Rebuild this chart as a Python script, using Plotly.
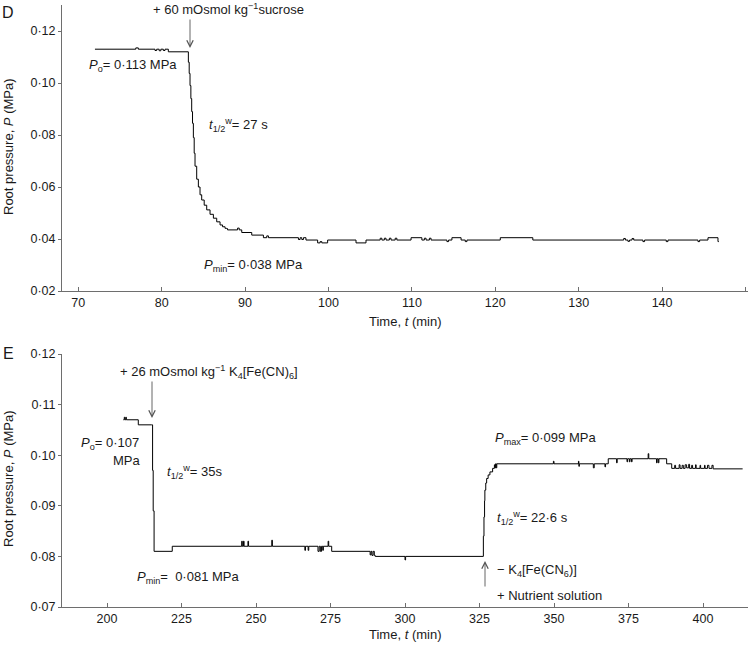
import plotly.graph_objects as go

# ---------------- data ----------------
# Panel D: root pressure response to 60 mOsmol/kg sucrose
D_time = [72.0, 76.9, 77.2, 79.2, 79.4, 79.7, 79.9, 80.2, 80.4, 80.8,
          83.2, 83.3, 83.4, 83.5, 83.6, 83.7, 83.8, 83.9, 84.0, 84.2,
          84.4, 84.6, 84.8, 85.1, 85.4, 85.8, 86.2, 86.6, 87.0, 87.3,
          87.6, 87.8, 87.9, 89.1, 89.3, 89.6, 90.8, 92.2, 92.6, 92.8,
          96.4, 96.6, 96.8, 97.0, 97.3, 98.7, 99.0, 99.2, 99.9, 103.3,
          104.5, 106.2, 106.4, 106.7, 106.9, 107.3, 107.5, 108.0, 108.2, 109.9,
          111.2, 111.5, 111.7, 112.1, 112.3, 114.2, 114.4, 114.8, 115.9, 116.4,
          116.6, 120.6, 124.5, 135.4, 135.6, 135.9, 136.1, 136.4, 136.6, 137.7,
          137.9, 140.5, 140.7, 144.3, 144.5, 145.5, 146.7, 146.8]
D_pressure = [0.113, 0.1135, 0.113, 0.1125, 0.113, 0.1124, 0.113, 0.1125, 0.113, 0.112,
              0.108, 0.1037, 0.099, 0.094, 0.089, 0.0845, 0.079, 0.073, 0.068, 0.063,
              0.060, 0.057, 0.055, 0.053, 0.0512, 0.0495, 0.048, 0.0466, 0.0454, 0.0447,
              0.0441, 0.0440, 0.0435, 0.0442, 0.0435, 0.0425, 0.0415, 0.0405, 0.0412, 0.0405,
              0.0398, 0.0405, 0.0398, 0.0405, 0.0396, 0.0385, 0.0390, 0.0385, 0.0396, 0.0385,
              0.0396, 0.0403, 0.0396, 0.0403, 0.0396, 0.0403, 0.0396, 0.0403, 0.0396, 0.0405,
              0.0396, 0.0403, 0.0396, 0.0403, 0.0396, 0.0390, 0.0396, 0.0405, 0.0396, 0.0390,
              0.0396, 0.0405, 0.0396, 0.0402, 0.0396, 0.0391, 0.0396, 0.0402, 0.0396, 0.0390,
              0.0396, 0.0390, 0.0396, 0.0390, 0.0396, 0.0405, 0.0390, 0.0390]

# Panel E: response to 26 mOsmol/kg K4[Fe(CN)6] and its removal
E_time = [205.5, 205.8, 206.0, 206.3, 206.5, 210.5, 215.0, 215.3, 215.5, 215.8,
          221.9, 245.2, 245.4, 245.8, 246.0, 247.3, 247.5, 255.3, 255.5, 266.4,
          266.6, 267.5, 267.7, 270.8, 271.2, 271.6, 272.0, 272.4, 272.6, 274.2,
          274.4, 275.4, 288.3, 288.6, 288.9, 289.3, 289.7, 290.0, 300.0, 300.2,
          326.2, 326.3, 326.5, 326.7, 326.8, 327.1, 327.4, 327.9, 328.5, 329.4,
          330.0, 330.2, 330.4, 330.6, 330.8, 349.8, 350.0, 358.2, 358.35, 358.5,
          363.2, 363.5, 367.1, 367.3, 368.2, 371.0, 371.2, 374.5, 374.7, 375.3,
          375.5, 376.0, 376.2, 381.6, 381.8, 384.4, 384.6, 385.0, 385.2, 387.8,
          389.5, 390.5, 390.8, 392.0, 392.3, 393.0, 393.4, 394.0, 394.5, 395.2,
          395.5, 396.2, 396.5, 397.5, 397.7, 399.0, 399.2, 400.5, 400.7, 401.5,
          402.0, 403.0, 403.4, 413.3]
E_pressure = [0.107, 0.1075, 0.107, 0.1075, 0.107, 0.106, 0.106, 0.097, 0.089, 0.081,
              0.082, 0.083, 0.082, 0.083, 0.082, 0.083, 0.082, 0.0832, 0.082, 0.0812,
              0.082, 0.0812, 0.082, 0.081, 0.082, 0.081, 0.082, 0.0812, 0.082, 0.083,
              0.082, 0.081, 0.0803, 0.081, 0.0802, 0.081, 0.0802, 0.080, 0.0793, 0.080,
              0.080, 0.084, 0.0878, 0.091, 0.0931, 0.0945, 0.0954, 0.0961, 0.0967, 0.0974,
              0.0981, 0.0975, 0.0983, 0.0975, 0.0983, 0.0988, 0.0983, 0.0988, 0.0978, 0.0983,
              0.0975, 0.0983, 0.0977, 0.0983, 0.0993, 0.0985, 0.0993, 0.0987, 0.0993, 0.0987,
              0.0993, 0.0987, 0.0993, 0.1003, 0.0993, 0.0985, 0.0993, 0.0985, 0.0993, 0.0983,
              0.0974, 0.0980, 0.0974, 0.0981, 0.0974, 0.0980, 0.0974, 0.0981, 0.0975, 0.0982,
              0.0974, 0.0980, 0.0974, 0.0981, 0.0974, 0.0980, 0.0974, 0.0980, 0.0974, 0.0980,
              0.0974, 0.0980, 0.0973, 0.0973]

D_xticks = [70, 80, 90, 100, 110, 120, 130, 140, 150]
D_yticks = [0.02, 0.04, 0.06, 0.08, 0.10, 0.12]
D_yticklabels = ["0·02", "0·04", "0·06", "0·08", "0·10", "0·12"]
E_xticks = [200, 225, 250, 275, 300, 325, 350, 375, 400]
E_yticks = [0.07, 0.08, 0.09, 0.10, 0.11, 0.12]
E_yticklabels = ["0·07", "0·08", "0·09", "0·10", "0·11", "0·12"]

# ---------------- figure ----------------
FONT = "Liberation Sans, Arial, Helvetica, sans-serif"
TXT = "#1a1a1a"
AX = "#6e6e6e"
FS = 13

L, R, T, B = 62, 7, 5, 39
W, H = 755, 646
PW, PH = W - L - R, H - T - B


def paper(xp, yp):
    return (xp - L) / PW, (H - B - yp) / PH


fig = go.Figure()
fig.add_trace(go.Scatter(x=D_time, y=D_pressure, mode="lines",
                         line=dict(color="black", width=1, shape="hv"),
                         xaxis="x", yaxis="y", showlegend=False, hoverinfo="skip"))
fig.add_trace(go.Scatter(x=E_time, y=E_pressure, mode="lines",
                         line=dict(color="black", width=1, shape="hv"),
                         xaxis="x2", yaxis="y2", showlegend=False, hoverinfo="skip"))

axis_common = dict(showline=True, linecolor=AX, linewidth=1, showgrid=False,
                   zeroline=False, tickcolor=AX, automargin=False,
                   tickfont=dict(size=12.5, color=TXT, family=FONT))

dom_D = [(H - B - 291) / PH, 1.0]
dom_E = [0.0, (H - B - 354) / PH]

fig.update_layout(
    width=W, height=H,
    margin=dict(l=L, r=R, t=T, b=B),
    paper_bgcolor="white", plot_bgcolor="white",
    font=dict(family=FONT, size=FS, color=TXT),
    xaxis=dict(domain=[0, 1], anchor="y", range=[68.05, 150.3],
               tickvals=D_xticks, ticks="inside", ticklen=4, **axis_common),
    yaxis=dict(domain=dom_D, anchor="x", range=[0.02, 0.13],
               tickvals=D_yticks, ticktext=D_yticklabels, ticks="outside", ticklen=3,
               **axis_common),
    xaxis2=dict(domain=[0, 1], anchor="y2", range=[184.9, 415.1],
                tickvals=E_xticks, ticks="inside", ticklen=4, **axis_common),
    yaxis2=dict(domain=dom_E, anchor="x2", range=[0.07, 0.12],
                tickvals=E_yticks, ticktext=E_yticklabels, ticks="outside", ticklen=3,
                **axis_common),
)

ann = []


def text(xp, yp, s, anchor="left", size=FS):
    x, y = paper(xp, yp)
    ann.append(dict(x=x, y=y, xref="paper", yref="paper", text=s, showarrow=False,
                    xanchor=anchor, yanchor="middle",
                    font=dict(size=size, color=TXT, family=FONT)))


def arrow(xp, y_head, y_tail):
    x, y = paper(xp, y_head)
    ann.append(dict(x=x, y=y, xref="paper", yref="paper", text="", showarrow=True,
                    ax=0, ay=y_tail - y_head, arrowhead=5, arrowsize=1.4,
                    arrowwidth=0.9, arrowcolor="#555555", standoff=0))


# Panel D
text(0, 12, "D", size=16)
text(228, 9, "+ 60 mOsmol kg<sup>−1</sup>sucrose", anchor="center")
arrow(190, 48, 18)
text(87, 65, "<i>P</i><sub>o</sub>= 0·113 MPa")
text(207, 125, "<i>t</i><sub>1/2</sub><sup>w</sup>= 27 s")
text(202, 265, "<i>P</i><sub>min</sub>= 0·038 MPa")
text(405, 321, "Time, <i>t</i> (min)", anchor="center")

# Panel E
text(1, 353, "E", size=16)
text(118, 372, "+ 26 mOsmol kg<sup>−1</sup> K<sub>4</sub>[Fe(CN)<sub>6</sub>]")
arrow(152, 418, 380)
text(141, 443, "<i>P</i><sub>o</sub>= 0·107", anchor="right")
text(143, 460, "MPa", anchor="right")
text(165, 472, "<i>t</i><sub>1/2</sub><sup>w</sup>= 35s")
text(135, 577, "<i>P</i><sub>min</sub>=\u00a0 0·081 MPa")
text(493, 438, "<i>P</i><sub>max</sub>= 0·099 MPa")
text(495, 518, "<i>t</i><sub>1/2</sub><sup>w</sup>= 22·6 s")
arrow(485, 561, 588)
text(495, 570, "− K<sub>4</sub>[Fe(CN<sub>6</sub>)]")
text(495, 595, "+ Nutrient solution")
text(405, 634, "Time, <i>t</i> (min)", anchor="center")

# Y titles
for yc in (146, 478):
    x, y = paper(8, yc)
    ann.append(dict(x=x, y=y, xref="paper", yref="paper",
                    text="Root pressure, <i>P</i> (MPa)", showarrow=False,
                    textangle=-90, xanchor="center", yanchor="middle",
                    font=dict(size=FS, color=TXT, family=FONT)))

fig.update_layout(annotations=ann)
fig.write_html("out.html",
               config={"displayModeBar": False},
               post_script="document.body.style.margin='0px';"
                           "document.body.style.overflow='hidden';")
